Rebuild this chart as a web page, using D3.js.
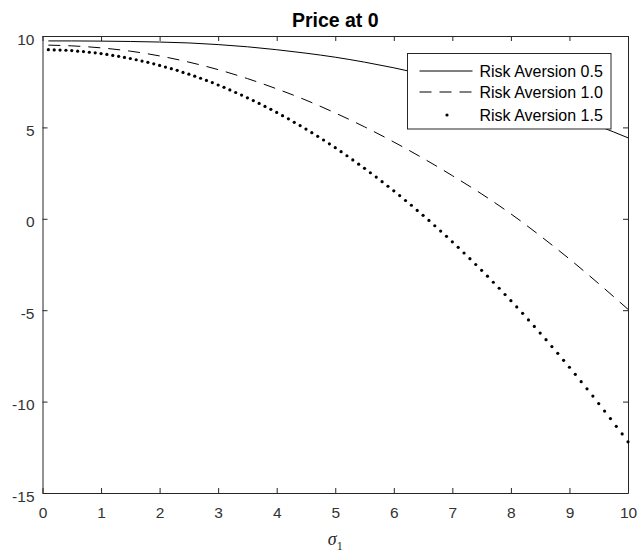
<!DOCTYPE html>
<html>
<head>
<meta charset="utf-8">
<title>Price at 0</title>
<script src="https://d3js.org/d3.v7.min.js"></script>
<style>
    body { margin: 0; background: #fff; }
    svg { display: block; font-family: "Liberation Sans", Arial, sans-serif; }
    .tick text { fill: #333; font-size: 15.5px; }
    .domain, .tick line { stroke: #262626; }
</style>
</head>
<body>
<div id="chart"></div>
<script>
// x grid for the two line series
const sigmaCoarse = [0.1, 0.5, 1, 1.5, 2, 2.5, 3, 3.5, 4, 4.5, 5, 5.5, 6, 6.5, 7, 7.5, 8, 8.5, 9, 9.5, 10];
const priceRA05 = [9.73, 9.73, 9.72, 9.70, 9.67, 9.62, 9.53, 9.41, 9.25, 9.06, 8.84, 8.57, 8.26, 7.91, 7.52, 7.10, 6.65, 6.16, 5.64, 5.07, 4.43];
const priceRA10 = [9.50, 9.46, 9.35, 9.17, 8.91, 8.57, 8.16, 7.67, 7.11, 6.49, 5.79, 5.03, 4.20, 3.31, 2.36, 1.36, 0.27, -0.93, -2.20, -3.55, -4.95];

// x grid for the dotted series (one marker per point)
const sigmaFine = [
    0.1, 0.2, 0.3, 0.4, 0.5, 0.6, 0.7, 0.8, 0.9, 1.0,
    1.1, 1.2, 1.3, 1.4, 1.5, 1.6, 1.7, 1.8, 1.9, 2.0,
    2.1, 2.2, 2.3, 2.4, 2.5, 2.6, 2.7, 2.8, 2.9, 3.0,
    3.1, 3.2, 3.3, 3.4, 3.5, 3.6, 3.7, 3.8, 3.9, 4.0,
    4.1, 4.2, 4.3, 4.4, 4.5, 4.6, 4.7, 4.8, 4.9, 5.0,
    5.1, 5.2, 5.3, 5.4, 5.5, 5.6, 5.7, 5.8, 5.9, 6.0,
    6.1, 6.2, 6.3, 6.4, 6.5, 6.6, 6.7, 6.8, 6.9, 7.0,
    7.1, 7.2, 7.3, 7.4, 7.5, 7.6, 7.7, 7.8, 7.9, 8.0,
    8.1, 8.2, 8.3, 8.4, 8.5, 8.6, 8.7, 8.8, 8.9, 9.0,
    9.1, 9.2, 9.3, 9.4, 9.5, 9.6, 9.7, 9.8, 9.9, 10.0
];
const priceRA15 = [
    9.25, 9.24, 9.23, 9.22, 9.20, 9.17, 9.15, 9.11, 9.08, 9.04,
    8.99, 8.94, 8.89, 8.83, 8.77, 8.70, 8.63, 8.56, 8.48, 8.39,
    8.30, 8.21, 8.12, 8.01, 7.91, 7.80, 7.69, 7.57, 7.45, 7.32,
    7.19, 7.05, 6.91, 6.77, 6.62, 6.47, 6.31, 6.15, 5.99, 5.82,
    5.64, 5.47, 5.28, 5.10, 4.91, 4.71, 4.51, 4.31, 4.10, 3.89,
    3.67, 3.45, 3.22, 2.99, 2.76, 2.52, 2.28, 2.03, 1.78, 1.53,
    1.27, 1.00, 0.74, 0.46, 0.19, -0.09, -0.38, -0.67, -0.96, -1.26,
    -1.56, -1.87, -2.18, -2.50, -2.82, -3.14, -3.47, -3.80, -4.14, -4.48,
    -4.82, -5.17, -5.53, -5.89, -6.25, -6.61, -6.99, -7.36, -7.74, -8.12,
    -8.51, -8.91, -9.30, -9.70, -10.11, -10.52, -10.93, -11.35, -11.77, -12.20
];

const seriesLabels = ["Risk Aversion 0.5", "Risk Aversion 1.0", "Risk Aversion 1.5"];
const xTicks = [0, 1, 2, 3, 4, 5, 6, 7, 8, 9, 10];
const yTicks = [-15, -10, -5, 0, 5, 10];

const width = 638, height = 554;
const margin = { top: 36, right: 10, bottom: 61, left: 42.5 };

const svg = d3.select("#chart").append("svg")
    .attr("width", width)
    .attr("height", height);

const x = d3.scaleLinear().domain([0, 10]).range([margin.left, width - margin.right]);
const y = d3.scaleLinear().domain([-15, 10]).range([height - margin.bottom, margin.top]);

// axes, ticks pointing inward like matlab
svg.append("g")
    .attr("transform", `translate(0,${y(-15)})`)
    .call(d3.axisBottom(x).tickValues(xTicks).tickFormat(d => String(d))
        .tickSizeInner(-5).tickSizeOuter(0).tickPadding(14));
svg.append("g")
    .attr("transform", `translate(0,${y(10)})`)
    .call(d3.axisTop(x).tickValues(xTicks).tickFormat("")
        .tickSizeInner(-5).tickSizeOuter(0));
svg.append("g")
    .attr("transform", `translate(${x(0)},0)`)
    .call(d3.axisLeft(y).tickValues(yTicks).tickFormat(d => String(d))
        .tickSizeInner(-5).tickSizeOuter(0).tickPadding(8))
    .selectAll(".tick text").attr("dy", "0.52em");
svg.append("g")
    .attr("transform", `translate(${x(10)},0)`)
    .call(d3.axisRight(y).tickValues(yTicks).tickFormat("")
        .tickSizeInner(-5).tickSizeOuter(0));

// lines
const line = d3.line()
    .x(d => x(d[0]))
    .y(d => y(d[1]))
    .curve(d3.curveMonotoneX);

svg.append("path")
    .datum(d3.zip(sigmaCoarse, priceRA05))
    .attr("fill", "none")
    .attr("stroke", "#000")
    .attr("stroke-width", 1)
    .attr("d", line);

svg.append("path")
    .datum(d3.zip(sigmaCoarse, priceRA10))
    .attr("fill", "none")
    .attr("stroke", "#000")
    .attr("stroke-width", 1)
    .attr("stroke-dasharray", "12,8")
    .attr("d", line);

svg.append("g")
    .selectAll("circle")
    .data(d3.zip(sigmaFine, priceRA15))
    .join("circle")
    .attr("cx", d => x(d[0]))
    .attr("cy", d => y(d[1]))
    .attr("r", 1.6)
    .attr("fill", "#000");

// title and x label
svg.append("text")
    .attr("x", (x(0) + x(10)) / 2)
    .attr("y", 27)
    .attr("text-anchor", "middle")
    .style("font-size", "19.5px")
    .style("font-weight", "bold")
    .attr("fill", "#000")
    .text("Price at 0");

const xlab = svg.append("text")
    .attr("x", (x(0) + x(10)) / 2)
    .attr("y", 545)
    .attr("text-anchor", "middle")
    .attr("fill", "#262626")
    .style("font-family", "'Liberation Serif', 'DejaVu Serif', serif")
    .style("font-size", "18px");
xlab.append("tspan").style("font-style", "italic").text("σ");
xlab.append("tspan").attr("dy", 5).style("font-size", "12px").text("1");

// legend
const legend = svg.append("g").attr("transform", "translate(407.5,53.5)");
legend.append("rect")
    .attr("width", 203.5)
    .attr("height", 75.5)
    .attr("fill", "#fff")
    .attr("stroke", "#262626")
    .attr("stroke-width", 1);

const rowY = [17.5, 38.5, 61.5];
seriesLabels.forEach((label, i) => {
    const g = legend.append("g").attr("transform", `translate(0,${rowY[i]})`);
    if (i === 2) {
        g.append("circle").attr("cx", 39.5).attr("cy", 0).attr("r", 1.6).attr("fill", "#000");
    } else {
        g.append("line")
            .attr("x1", 12).attr("x2", 65)
            .attr("stroke", "#000").attr("stroke-width", 1)
            .attr("stroke-dasharray", i === 1 ? "12,8" : null);
    }
    g.append("text")
        .attr("x", 72)
        .attr("dy", "0.35em")
        .style("font-size", "16px")
        .attr("fill", "#000")
        .text(label);
});
</script>
</body>
</html>
